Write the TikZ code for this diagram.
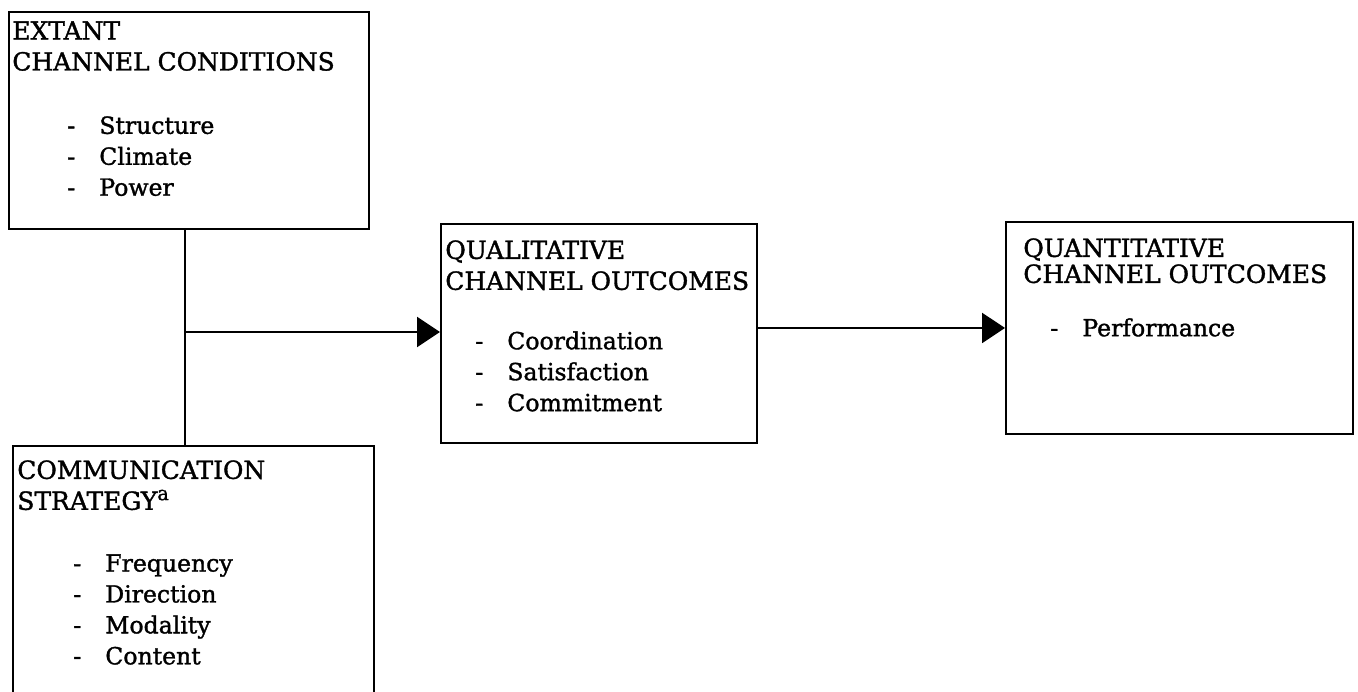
\documentclass[tikz,border=0pt]{standalone}
\usepackage{fontspec}
\setmainfont{DejaVu Serif}[FakeBold=1.4]
\usetikzlibrary{arrows.meta,positioning}

\tikzset{
  box/.style={draw, line width=1.1pt, anchor=north west, inner sep=0pt},
  head/.style={align=left, inner sep=0pt, font=\fontsize{14.2}{17.6}\selectfont},
  items/.style={align=left, inner sep=0pt, font=\fontsize{13.4}{17.6}\selectfont},
  link/.style={line width=1.2pt},
  flow/.style={line width=1.3pt, -{Triangle[length=0.46cm,width=0.6cm]}}
}
\newcommand{\itm}[1]{\makebox[0.64cm][l]{-}#1}
\newcommand{\fnmark}[1]{\raisebox{0.75ex}{\fontsize{11}{11}\selectfont #1}}

\begin{document}
\begin{tikzpicture}
\useasboundingbox (0,0) rectangle (27.16,13.82);
\clip (0,0) rectangle (27.16,13.82);

% the four boxes
\node[box, minimum width=7.2cm, minimum height=4.34cm] (extant) at (0.16,13.6) {};
\node[box, minimum width=7.22cm, minimum height=6cm] (comm) at (0.24,4.92) {};
\node[box, minimum width=6.32cm, minimum height=4.38cm] (qual) at (8.8,9.36) {};
\node[box, minimum width=6.94cm, minimum height=4.24cm] (quant) at (20.1,9.4) {};

% headings and lists
\node[head, below right=0.2cm and 0.08cm of extant.north west] (extant-h) {EXTANT\\CHANNEL CONDITIONS};
\node[items, below right=2.1cm and 1.18cm of extant.north west] (extant-l) {\itm{Structure}\\\itm{Climate}\\\itm{Power}};

\node[head, below right=0.3cm and 0.1cm of comm.north west] (comm-h) {COMMUNICATION\\STRATEGY\fnmark{a}};
\node[items, below right=2.18cm and 1.22cm of comm.north west] (comm-l) {\itm{Frequency}\\\itm{Direction}\\\itm{Modality}\\\itm{Content}};

\node[head, below right=0.34cm and 0.1cm of qual.north west] (qual-h) {QUALITATIVE\\CHANNEL OUTCOMES};
\node[items, below right=2.16cm and 0.7cm of qual.north west] (qual-l) {\itm{Coordination}\\\itm{Satisfaction}\\\itm{Commitment}};

\node[head, font=\fontsize{14.2}{14.8}\selectfont, below right=0.34cm and 0.36cm of quant.north west] (quant-h) {QUANTITATIVE\\CHANNEL OUTCOMES};
\node[items, below right=1.94cm and 0.9cm of quant.north west] (quant-l) {\itm{Performance}};

% connectors
\coordinate (jn) at (3.7,7.18);
\draw[link] (extant.south -| jn) -- (comm.north -| jn);
\draw[flow] (jn) -- (jn -| qual.west);
\draw[flow] (quant.west -| qual.east) -- (quant.west);
\end{tikzpicture}
\end{document}
